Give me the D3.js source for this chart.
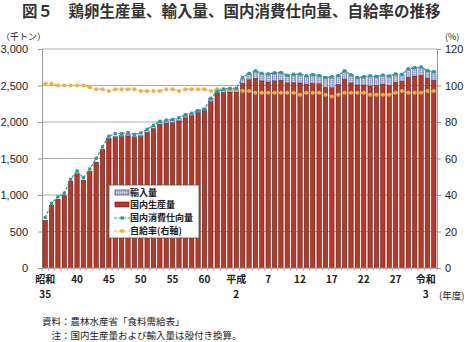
<!DOCTYPE html>
<html>
<head>
<meta charset="utf-8">
<script src="https://cdn.jsdelivr.net/npm/d3@7"></script>
<style>
  html, body { margin: 0; padding: 0; background: #fff; }
  svg { display: block; font-family: "Noto Sans CJK JP", "Noto Sans", sans-serif; }
</style>
</head>
<body>
<svg id="chart" width="467" height="342"></svg>
<script>
// 鶏卵の需給（千トン）と自給率（％）, 1960〜2021年度
const years = d3.range(1960, 2022);

const production = [
  650, 855, 940, 990, 1185, 1290, 1200, 1320, 1450, 1625,
  1765, 1790, 1800, 1810, 1790, 1800, 1855, 1910, 1970, 1985,
  1990, 2015, 2060, 2085, 2130, 2155, 2280, 2395, 2405, 2410,
  2410, 2530, 2580, 2600, 2563, 2549, 2564, 2573, 2536, 2539,
  2535, 2519, 2529, 2525, 2475, 2469, 2514, 2587, 2535, 2508,
  2506, 2495, 2502, 2519, 2501, 2544, 2558, 2614, 2630, 2640,
  2602, 2574
];

const imports = [
  0, 0, 0, 0, 0, 0, 0, 0, 0, 0,
  10, 15, 15, 20, 15, 20, 25, 25, 30, 30,
  30, 30, 35, 35, 35, 35, 45, 40, 45, 50,
  50, 60, 85, 97, 104, 110, 110, 104, 104, 115,
  121, 114, 120, 110, 134, 151, 122, 113, 112, 101,
  114, 138, 123, 124, 129, 114, 95, 114, 114, 113,
  102, 115
];

const consumption = [
  690, 885, 975, 1025, 1215, 1330, 1235, 1355, 1500, 1660,
  1805, 1840, 1840, 1855, 1830, 1850, 1900, 1955, 2010, 2025,
  2035, 2060, 2100, 2120, 2155, 2175, 2325, 2420, 2450, 2460,
  2460, 2610, 2665, 2700, 2667, 2659, 2674, 2677, 2640, 2654,
  2656, 2633, 2649, 2635, 2609, 2620, 2636, 2700, 2647, 2609,
  2620, 2633, 2625, 2643, 2630, 2658, 2653, 2728, 2744, 2753,
  2704, 2689
];

const selfSufficiency = [
  101, 101, 100, 100, 100, 100, 100, 99, 98, 98,
  97, 98, 98, 98, 98, 97, 97, 97, 97, 98,
  98, 97, 98, 98, 98, 98, 97, 98, 98, 98,
  98, 97, 97, 96, 96, 96, 96, 96, 96, 96,
  95, 96, 96, 96, 95, 94, 95, 96, 96, 96,
  96, 95, 95, 95, 95, 96, 97, 96, 96, 96,
  97, 97
];

const leftTicks = [0, 500, 1000, 1500, 2000, 2500, 3000];
const rightTicks = [0, 20, 40, 60, 80, 100, 120];

const xTickYears = [1960, 1965, 1970, 1975, 1980, 1985, 1990, 1995, 2000, 2005, 2010, 2015, 2021];
const xTickLine1 = ["昭和", "40", "45", "50", "55", "60", "平成", "7", "12", "17", "22", "27", "令和"];
const xTickLine2 = ["35", "", "", "", "", "", "2", "", "", "", "", "", "3"];

const legendLabels = ["輸入量", "国内生産量", "国内消費仕向量", "自給率(右軸)"];

const colors = {
  prodFill: "#bb3727",
  prodStroke: "#5b1c14",
  impFill: "#d3d7ea",
  impStroke: "#3c4b8c",
  cons: "#2a9a98",
  ss: "#f2ad45",
  grid: "#9a9a9a",
  text: "#222"
};

const svg = d3.select("#chart");
const m = { left: 42, right: 437, top: 49, bottom: 268 };

const x = d3.scaleBand().domain(years).range([m.left, m.right]).paddingInner(0.32).paddingOuter(0.16);
const y = d3.scaleLinear().domain([0, 3000]).range([m.bottom, m.top]);
const y2 = d3.scaleLinear().domain([0, 120]).range([m.bottom, m.top]);

// grid hatch used for the import segments
const defs = svg.append("defs");
const pat = defs.append("pattern").attr("id", "hatch")
  .attr("patternUnits", "userSpaceOnUse").attr("width", 2).attr("height", 2);
pat.append("rect").attr("width", 2).attr("height", 2).attr("fill", colors.impFill);
pat.append("path").attr("d", "M0,0.5H2M0.5,0V2").attr("stroke", "#8d96c4").attr("stroke-width", 0.5);

// title
svg.append("text")
  .attr("x", 22).attr("y", 17)
  .attr("font-size", 15.5).attr("font-weight", 700).attr("fill", "#333")
  .text("図５　鶏卵生産量、輸入量、国内消費仕向量、自給率の推移");

// axis unit labels
svg.append("text").attr("x", 1).attr("y", 40).attr("font-size", 9).attr("fill", colors.text).text("（千トン）");
svg.append("text").attr("x", 445).attr("y", 40).attr("font-size", 9).attr("fill", colors.text).text("(%)");

// gridlines
svg.append("g").selectAll("line").data(leftTicks.filter(d => d > 0)).join("line")
  .attr("x1", m.left).attr("x2", m.right)
  .attr("y1", d => y(d)).attr("y2", d => y(d))
  .attr("stroke", colors.grid).attr("stroke-width", 0.8);

// left axis
const gL = svg.append("g").attr("transform", `translate(${m.left},0)`)
  .call(d3.axisLeft(y).tickValues(leftTicks).tickFormat(d3.format(",")).tickSize(4).tickPadding(10));
gL.select(".domain").attr("stroke", colors.grid);
gL.selectAll(".tick line").attr("stroke", colors.grid);
gL.selectAll("text").attr("font-size", 11).attr("fill", colors.text).attr("font-family", "Liberation Sans, Arial, sans-serif");

// right axis
const gR = svg.append("g").attr("transform", `translate(${m.right},0)`)
  .call(d3.axisRight(y2).tickValues(rightTicks).tickSize(4).tickPadding(4));
gR.select(".domain").attr("stroke", colors.grid);
gR.selectAll(".tick line").attr("stroke", colors.grid);
gR.selectAll("text").attr("font-size", 11).attr("fill", colors.text).attr("font-family", "Liberation Sans, Arial, sans-serif");

// bars: production
svg.append("g").selectAll("rect").data(years).join("rect")
  .attr("x", (d) => x(d)).attr("width", x.bandwidth())
  .attr("y", (d, i) => y(production[i]))
  .attr("height", (d, i) => y(0) - y(production[i]))
  .attr("fill", colors.prodFill).attr("stroke", colors.prodStroke).attr("stroke-width", 0.6);

// bars: imports stacked on top
svg.append("g").selectAll("rect").data(years).join("rect")
  .attr("x", (d) => x(d)).attr("width", x.bandwidth())
  .attr("y", (d, i) => y(production[i] + imports[i]))
  .attr("height", (d, i) => y(production[i]) - y(production[i] + imports[i]))
  .attr("fill", "url(#hatch)").attr("stroke", colors.impStroke).attr("stroke-width", 0.5)
  .attr("display", (d, i) => imports[i] > 0 ? null : "none");

// x axis baseline and ticks between years
svg.append("line").attr("x1", m.left).attr("x2", m.right).attr("y1", m.bottom).attr("y2", m.bottom)
  .attr("stroke", colors.grid).attr("stroke-width", 1);
const step = x.step();
svg.append("g").selectAll("line").data(d3.range(years.length + 1)).join("line")
  .attr("x1", i => m.left + i * step).attr("x2", i => m.left + i * step)
  .attr("y1", m.bottom).attr("y2", m.bottom + 3)
  .attr("stroke", colors.grid).attr("stroke-width", 0.8);

// x labels (era name on first line, year number below)
const cx = d => x(d) + x.bandwidth() / 2;
const xl = svg.append("g").attr("font-size", 10).attr("fill", colors.text).attr("text-anchor", "middle");
xTickYears.forEach((yr, k) => {
  const dx = k === xTickYears.length - 1 ? -8 : 0;
  xl.append("text").attr("x", cx(yr) + dx).attr("y", 283).attr("font-weight", 600).text(xTickLine1[k]);
  if (xTickLine2[k]) {
    xl.append("text").attr("x", cx(yr) + dx).attr("y", 298).attr("font-weight", 600).text(xTickLine2[k]);
  }
});
svg.append("text").attr("x", 439).attr("y", 299).attr("font-size", 9.5).attr("fill", colors.text).text("(年度)");

// self-sufficiency line (right axis)
const ssLine = d3.line().x((d, i) => cx(years[i])).y(d => y2(d));
svg.append("path").datum(selfSufficiency).attr("d", ssLine)
  .attr("fill", "none").attr("stroke", colors.ss).attr("stroke-width", 1.2).attr("stroke-dasharray", "3,1.5");
svg.append("g").selectAll("circle").data(selfSufficiency).join("circle")
  .attr("cx", (d, i) => cx(years[i])).attr("cy", d => y2(d)).attr("r", 2)
  .attr("fill", colors.ss);

// consumption line
const consLine = d3.line().x((d, i) => cx(years[i])).y(d => y(d));
svg.append("path").datum(consumption).attr("d", consLine)
  .attr("fill", "none").attr("stroke", colors.cons).attr("stroke-width", 1.2).attr("stroke-dasharray", "3,1.5");
svg.append("g").selectAll("rect").data(consumption).join("rect")
  .attr("x", (d, i) => cx(years[i]) - 1.6).attr("y", d => y(d) - 1.6)
  .attr("width", 3.2).attr("height", 3.2).attr("fill", colors.cons);

// legend
const lg = svg.append("g").attr("transform", "translate(109,185)");
lg.append("rect").attr("width", 90).attr("height", 53).attr("fill", "#fff")
  .attr("stroke", "#555").attr("stroke-width", 0.8);
const rowY = [7.5, 19.5, 33, 46];
lg.append("rect").attr("x", 6).attr("y", rowY[0] - 2.5).attr("width", 14).attr("height", 5)
  .attr("fill", "url(#hatch)").attr("stroke", colors.impStroke).attr("stroke-width", 0.8);
lg.append("rect").attr("x", 6).attr("y", rowY[1] - 2.5).attr("width", 14).attr("height", 5)
  .attr("fill", colors.prodFill).attr("stroke", colors.prodStroke).attr("stroke-width", 0.6);
lg.append("line").attr("x1", 5).attr("x2", 21).attr("y1", rowY[2]).attr("y2", rowY[2])
  .attr("stroke", colors.cons).attr("stroke-width", 1.2).attr("stroke-dasharray", "3,1.5");
lg.append("rect").attr("x", 11.5).attr("y", rowY[2] - 1.6).attr("width", 3.2).attr("height", 3.2).attr("fill", colors.cons);
lg.append("line").attr("x1", 5).attr("x2", 21).attr("y1", rowY[3]).attr("y2", rowY[3])
  .attr("stroke", colors.ss).attr("stroke-width", 1.2).attr("stroke-dasharray", "3,1.5");
lg.append("circle").attr("cx", 13).attr("cy", rowY[3]).attr("r", 2).attr("fill", colors.ss);
lg.selectAll("text.lbl").data(legendLabels).join("text").attr("class", "lbl")
  .attr("x", 21).attr("y", (d, i) => rowY[i] + 3.3)
  .attr("font-size", 9).attr("font-weight", 600).attr("fill", colors.text).text(d => d);

// source and note
svg.append("text").attr("x", 42).attr("y", 325).attr("font-size", 9.5).attr("fill", colors.text)
  .text("資料：農林水産省「食料需給表」");
svg.append("text").attr("x", 51.5).attr("y", 339).attr("font-size", 9.5).attr("fill", colors.text)
  .text("注：国内生産量および輸入量は殻付き換算。");
</script>
</body>
</html>
